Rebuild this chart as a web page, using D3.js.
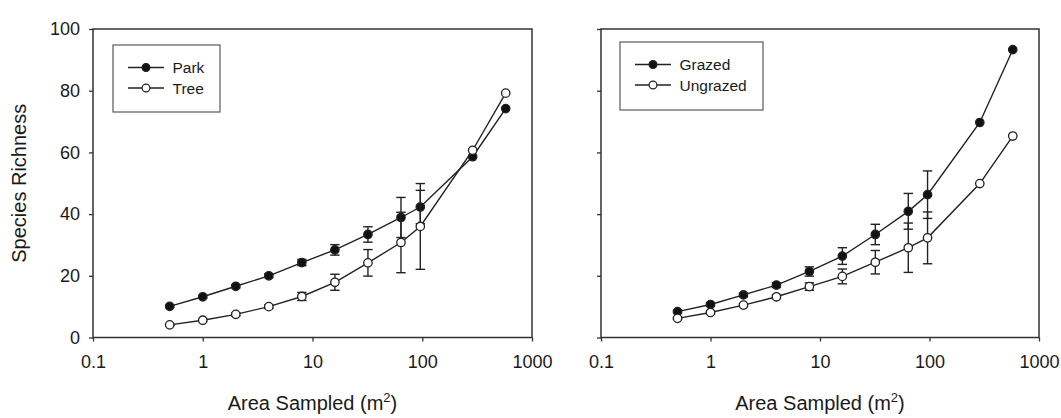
<!DOCTYPE html>
<html>
<head>
<meta charset="utf-8">
<script src="https://cdn.jsdelivr.net/npm/d3@7"></script>
<style>
  body { margin: 0; background: #fff; }
  text { font-family: "Liberation Sans", Arial, sans-serif; fill: #1a1a1a; }
</style>
</head>
<body>
<script>
// area sampled (m2), shared by all four series
let area = [0.5, 1, 2, 4, 8, 16, 32, 64, 96, 288, 576];

let park      = [10.1, 13.2, 16.6, 20.0, 24.3, 28.4, 33.4, 38.9, 42.3, 58.6, 74.2];
let parkErr   = [0.4, 0.4, 0.5, 0.6, 1.0, 1.7, 2.5, 6.5, 5.4, 0, 0];
let tree      = [4.1, 5.6, 7.5, 10.0, 13.3, 17.9, 24.2, 30.8, 36.0, 60.7, 79.2];
let treeErr   = [0.3, 0.4, 0.5, 0.6, 1.3, 2.6, 4.3, 9.8, 13.9, 0, 0];

let grazed      = [8.4, 10.7, 13.8, 17.0, 21.4, 26.4, 33.4, 40.9, 46.3, 69.7, 93.3];
let grazedErr   = [0.4, 0.5, 0.6, 0.8, 1.5, 2.7, 3.3, 5.8, 7.7, 0, 0];
let ungrazed    = [6.2, 8.1, 10.5, 13.2, 16.5, 19.8, 24.4, 29.1, 32.3, 49.9, 65.3];
let ungrazedErr = [0.3, 0.4, 0.5, 0.6, 1.2, 2.4, 3.8, 8.0, 8.4, 0, 0];

let xTicks = [0.1, 1, 10, 100, 1000];
let xTickLabels = ["0.1", "1", "10", "100", "1000"];
let yTicks = [0, 20, 40, 60, 80, 100];

let panels = [
  {left: 93, right: 532, showY: true, legend: {x: 113, y: 45, w: 107, h: 67},
   series: [{name: "Park", v: park, e: parkErr, filled: true},
            {name: "Tree", v: tree, e: treeErr, filled: false}]},
  {left: 601, right: 1039, showY: false, legend: {x: 620, y: 42, w: 143, h: 68},
   series: [{name: "Grazed", v: grazed, e: grazedErr, filled: true},
            {name: "Ungrazed", v: ungrazed, e: ungrazedErr, filled: false}]}
];

let W = 1061, H = 418;
let TOP = 29, BOTTOM = 337.5;
let INK = "#222";
let R = 4.2;

let svg = d3.select("body").append("svg")
    .attr("width", W).attr("height", H);

let y = d3.scaleLinear().domain([0, 100]).range([BOTTOM, TOP]);

// y title, only once on the left
svg.append("text")
  .attr("transform", "translate(26," + (TOP + BOTTOM) / 2 + ") rotate(-90)")
  .attr("text-anchor", "middle")
  .style("font-size", "20px")
  .text("Species Richness");

panels.forEach(function(p) {
  let x = d3.scaleLog().domain([0.1, 1000]).range([p.left, p.right]);
  let g = svg.append("g");

  // axes: ticks outward, labels via d3.axis
  let xAxis = d3.axisBottom(x).tickValues(xTicks)
      .tickFormat((d, i) => xTickLabels[i]).tickSize(4).tickPadding(14);
  let ga = g.append("g").attr("transform", "translate(0," + BOTTOM + ")").call(xAxis);
  ga.select(".domain").remove();
  ga.selectAll("line").attr("stroke", "#333").attr("stroke-width", 1.3);
  ga.selectAll("text").style("font-size", "18px").attr("fill", "#1a1a1a");

  let yAxis = d3.axisLeft(y).tickValues(yTicks).tickSize(4).tickPadding(9)
      .tickFormat(p.showY ? d3.format("d") : "");
  let gy = g.append("g").attr("transform", "translate(" + p.left + ",0)").call(yAxis);
  gy.select(".domain").remove();
  gy.selectAll("line").attr("stroke", "#333").attr("stroke-width", 1.3);
  gy.selectAll("text").style("font-size", "18px").attr("fill", "#1a1a1a");

  // frame
  g.append("rect")
    .attr("x", p.left).attr("y", TOP)
    .attr("width", p.right - p.left).attr("height", BOTTOM - TOP)
    .attr("fill", "none").attr("stroke", "#333").attr("stroke-width", 1.5);

  // x title with superscript
  let t = g.append("text")
    .attr("x", (p.left + p.right) / 2).attr("y", 410)
    .attr("text-anchor", "middle")
    .style("font-size", "20px");
  t.append("tspan").text("Area Sampled (m");
  t.append("tspan").attr("dy", -8).style("font-size", "13px").text("2");
  t.append("tspan").attr("dy", 8).text(")");

  let line = d3.line().x(d => x(d.a)).y(d => y(d.v));

  p.series.forEach(function(s) {
    let pts = area.map((a, i) => ({a: a, v: s.v[i], e: s.e[i]}));

    g.append("path").datum(pts)
      .attr("d", line)
      .attr("fill", "none").attr("stroke", INK).attr("stroke-width", 1.4);

    let eb = g.append("g").selectAll("g")
      .data(pts.filter(d => d.e > 0)).enter().append("g")
      .attr("stroke", INK).attr("stroke-width", 1.4);
    eb.append("line")
      .attr("x1", d => x(d.a)).attr("x2", d => x(d.a))
      .attr("y1", d => y(d.v - d.e)).attr("y2", d => y(d.v + d.e));
    eb.append("line")
      .attr("x1", d => x(d.a) - 4.7).attr("x2", d => x(d.a) + 4.7)
      .attr("y1", d => y(d.v + d.e)).attr("y2", d => y(d.v + d.e));
    eb.append("line")
      .attr("x1", d => x(d.a) - 4.7).attr("x2", d => x(d.a) + 4.7)
      .attr("y1", d => y(d.v - d.e)).attr("y2", d => y(d.v - d.e));

    g.append("g").selectAll("circle")
      .data(pts).enter().append("circle")
      .attr("cx", d => x(d.a)).attr("cy", d => y(d.v))
      .attr("r", R)
      .attr("fill", s.filled ? "#111" : "#fff")
      .attr("stroke", INK).attr("stroke-width", 1.3);
  });

  // legend
  let L = p.legend;
  let lg = g.append("g");
  lg.append("rect")
    .attr("x", L.x).attr("y", L.y).attr("width", L.w).attr("height", L.h)
    .attr("fill", "#fff").attr("stroke", "#666").attr("stroke-width", 1.3);
  p.series.forEach(function(s, i) {
    let ry = L.y + 22.5 + i * 20.5;
    lg.append("line")
      .attr("x1", L.x + 15).attr("x2", L.x + 51)
      .attr("y1", ry).attr("y2", ry)
      .attr("stroke", INK).attr("stroke-width", 1.4);
    lg.append("circle")
      .attr("cx", L.x + 33).attr("cy", ry).attr("r", 3.9)
      .attr("fill", s.filled ? "#111" : "#fff")
      .attr("stroke", INK).attr("stroke-width", 1.2);
    lg.append("text")
      .attr("x", L.x + 59.5).attr("y", ry).attr("dy", "0.36em")
      .style("font-size", "15.5px")
      .text(s.name);
  });
});
</script>
</body>
</html>
